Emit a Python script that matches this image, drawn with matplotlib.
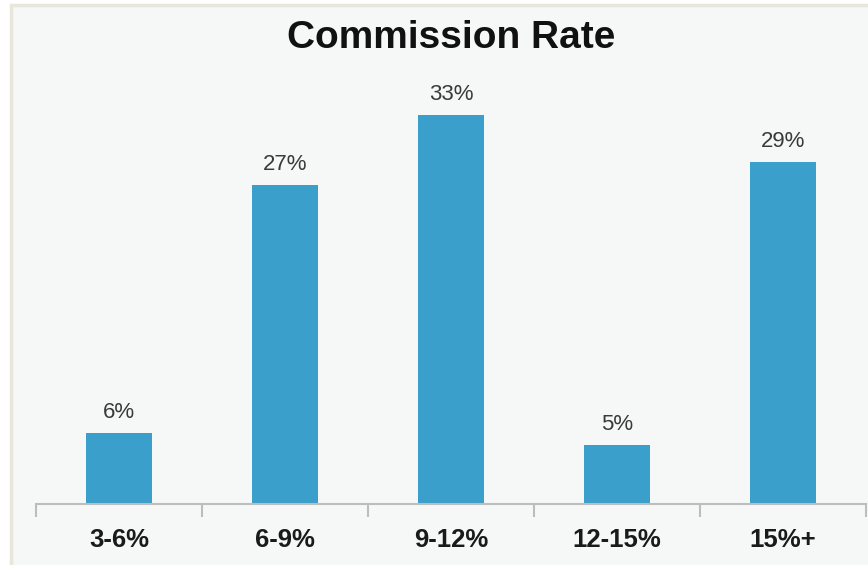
import matplotlib.pyplot as plt
from matplotlib.patches import Rectangle

categories = ['3-6%', '6-9%', '9-12%', '12-15%', '15%+']
rates = [6, 27, 33, 5, 29]

plt.rcParams['font.family'] = ['Liberation Sans', 'DejaVu Sans']

fig = plt.figure(figsize=(8.68, 5.65), dpi=100)
fig.patch.set_facecolor('white')

# panel background with the thin beige border (top and left)
panel = Rectangle((11/868, -0.02), 1, 1.02 - 5/565, transform=fig.transFigure,
                  facecolor='#f6f7f7', edgecolor='#e9e6dc', linewidth=2.5, zorder=-5)
fig.patches.append(panel)

ax = fig.add_axes([36/868, 61/565, 830/868, 472/565])
ax.set_facecolor('none')
ax.set_zorder(2)

x = list(range(len(categories)))
ax.bar(x, rates, width=0.4, color='#3a9fcb', zorder=2)

for k in range(len(x)):
    ax.text(x[k], rates[k] + 0.85, f'{rates[k]}%', ha='center', va='bottom',
            fontsize=16, color='#3a3a3a')

ax.set_xlim(-0.5, len(x) - 0.5)
ax.set_ylim(0, 40)

for s in ['top', 'right', 'left']:
    ax.spines[s].set_visible(False)
ax.spines['bottom'].set_color('#bdbdbd')
ax.spines['bottom'].set_linewidth(1.5)

ax.set_yticks([])
ax.set_xticks(x)
ax.set_xticklabels(categories, fontsize=18.5, fontweight='bold', color='#1a1a1a')
ax.tick_params(axis='x', which='major', length=0, pad=17)
ax.set_xticks([i - 0.5 for i in range(len(x) + 1)], minor=True)
ax.tick_params(axis='x', which='minor', length=9, width=1.5, color='#bdbdbd', direction='out')

fig.text(451/868, 1 - 48/565, 'Commission Rate', ha='center', va='baseline',
         fontsize=28, fontweight='bold', color='#111111', zorder=3)

fig.savefig('out.png', dpi=100)
